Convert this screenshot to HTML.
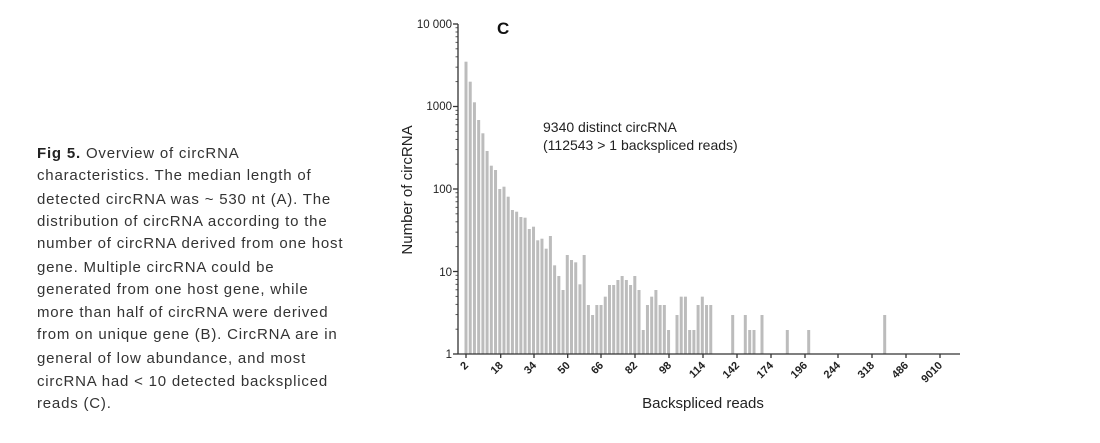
<!DOCTYPE html>
<html><head><meta charset="utf-8"><style>
html,body{margin:0;padding:0;background:#fff;width:1100px;height:443px;overflow:hidden}
svg{position:absolute;left:0;top:0}
</style></head><body>
<svg width="1100" height="443" xmlns="http://www.w3.org/2000/svg" font-family="Liberation Sans, Arial, sans-serif">
<g font-size="15" fill="#333" letter-spacing="0.8">
<text x="37" y="158"><tspan font-weight="bold" fill="#222">Fig 5.</tspan> Overview of circRNA</text>
<text x="37" y="180">characteristics. The median length of</text>
<text x="37" y="204">detected circRNA was ~ 530 nt (A). The</text>
<text x="37" y="226">distribution of circRNA according to the</text>
<text x="37" y="248">number of circRNA derived from one host</text>
<text x="37" y="272">gene. Multiple circRNA could be</text>
<text x="37" y="294">generated from one host gene, while</text>
<text x="37" y="317">more than half of circRNA were derived</text>
<text x="37" y="339">from on unique gene (B). CircRNA are in</text>
<text x="37" y="363">general of low abundance, and most</text>
<text x="37" y="386">circRNA had &lt; 10 detected backspliced</text>
<text x="37" y="408">reads (C).</text>
</g>
<g id="bars" fill="#bcbcbc"></g>
<g id="axes" stroke="#333" stroke-width="1.3" fill="none"></g>
<g font-size="11.5" fill="#222" text-anchor="end">
<text x="452" y="28">10 000</text>
<text x="452" y="110">1000</text>
<text x="452" y="193">100</text>
<text x="452" y="276">10</text>
<text x="452" y="358">1</text>
</g>
<g id="xl" font-size="11" font-weight="bold" fill="#222" text-anchor="end"></g>
<text x="497" y="34" font-size="17" font-weight="bold" fill="#111">C</text>
<text x="543" y="132" font-size="14" fill="#222">9340 distinct circRNA</text>
<text x="543" y="150" font-size="14" fill="#222">(112543 &gt; 1 backspliced reads)</text>
<text transform="translate(412,190) rotate(-90)" font-size="15" fill="#222" text-anchor="middle">Number of circRNA</text>
<text x="703" y="408" font-size="15" fill="#222" text-anchor="middle">Backspliced reads</text>
</svg>
<script>
var NS="http://www.w3.org/2000/svg";
function el(p,t,a){var e=document.createElementNS(NS,t);for(var k in a)e.setAttribute(k,a[k]);p.appendChild(e);return e;}
var base=354,dec=82.5;
var tops=[61.7,81.7,102.3,120,133.3,151,165.7,170,189,186.7,196.7,210,211.7,217,217.7,229,226.7,240.3,238.7,248.7,236];
var z=[196,228,270,165,180,187,253,165,315,345,315,315,290,255,255,240,228,240,255,228,270,390,315,290,270,315,315,390,null,345,290,290,390,390,315,290,315,315];
z.forEach(function(v){tops.push(v===null?null:200+v/3);});
var bars=document.getElementById('bars');
tops.forEach(function(t,i){if(t===null)return;var x=466+4.22*i;el(bars,'rect',{x:x-1.5,y:t,width:3,height:base-t});});
[[732.7,345],[745.3,345],[749.7,390],[754,390],[762,345],[787.3,390],[808.7,390],[884.7,345]].forEach(function(b){var t=200+b[1]/3;el(bars,'rect',{x:b[0]-1.5,y:t,width:3,height:base-t});});
var ax=document.getElementById('axes');
el(ax,'line',{x1:458,y1:24,x2:458,y2:base});
el(ax,'line',{x1:458,y1:base,x2:960,y2:base});
for(var d=0;d<=4;d++){var y=base-d*dec;el(ax,'line',{x1:453,y1:y,x2:458,y2:y});
 if(d<4)for(var m=2;m<=9;m++){var yy=base-(d+Math.log10(m))*dec;el(ax,'line',{x1:455.5,y1:yy,x2:458,y2:yy,'stroke-width':0.8});}}
var labs=[[466,'2'],[500.7,'18'],[534,'34'],[567.7,'50'],[601,'66'],[635,'82'],[669,'98'],[703,'114'],[737,'142'],[771,'174'],[805,'196'],[838,'244'],[872,'318'],[906,'486'],[940,'9010']];
var xl=document.getElementById('xl');
labs.forEach(function(l){el(ax,'line',{x1:l[0],y1:base,x2:l[0],y2:base+4});
 var t=el(xl,'text',{transform:'translate('+(l[0]+3)+','+(base+12)+') rotate(-45)'});t.textContent=l[1];});
</script>
</body></html>
